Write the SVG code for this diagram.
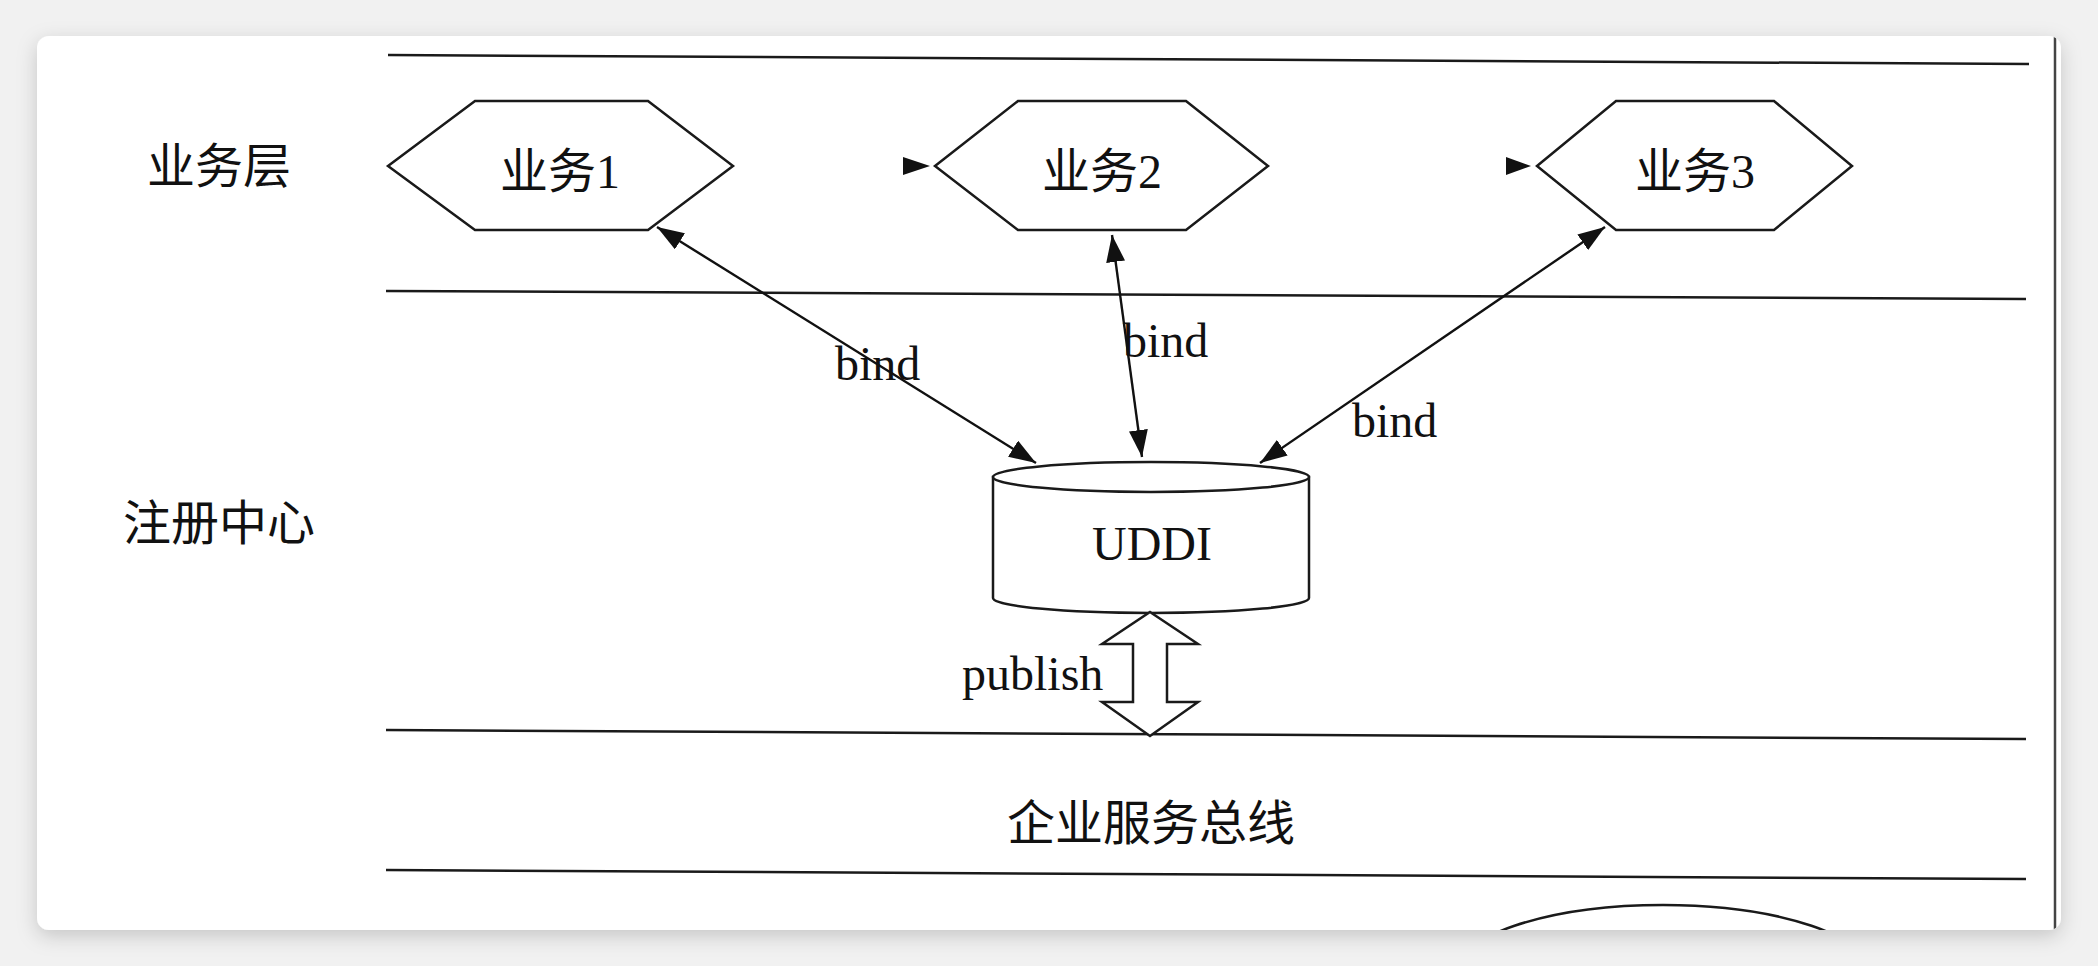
<svg xmlns="http://www.w3.org/2000/svg" width="2098" height="966" viewBox="0 0 2098 966">
  <defs>
    <filter id="shadow" x="-5%" y="-10%" width="110%" height="120%">
      <feDropShadow dx="0" dy="6" stdDeviation="10" flood-color="#000" flood-opacity="0.18"/>
    </filter>
    <clipPath id="cardClip">
      <rect x="37" y="36" width="2024" height="894" rx="12"/>
    </clipPath>
    <marker id="ah" viewBox="0 0 27 19" markerWidth="27" markerHeight="19" refX="27" refY="9.5" orient="auto-start-reverse" markerUnits="userSpaceOnUse">
      <path d="M0,0 L27,9.5 L0,19 Z" fill="#111"/>
    </marker>
    <style>
      .rule { fill: none; stroke: #1a1a1a; stroke-width: 2.5; }
      .shape { fill: #fff; stroke: #1a1a1a; stroke-width: 2.5; }
      .edge { fill: none; stroke: #111; stroke-width: 2.4; }
      .cjk { font-family: "Noto Sans CJK SC", "Liberation Sans", sans-serif; font-size: 48px; fill: #111; }
      .lbl { font-family: "Liberation Serif", "Noto Sans CJK SC", serif; font-size: 48px; fill: #111; }
    </style>
  </defs>

  <rect x="0" y="0" width="2098" height="966" fill="#f1f1f1"/>
  <rect x="37" y="36" width="2024" height="894" rx="12" fill="#fff" filter="url(#shadow)"/>

  <g clip-path="url(#cardClip)">
    <g id="frame">
      <line x1="2055" y1="36" x2="2055" y2="930" stroke="#444" stroke-width="2.5"/>
      <line class="rule" x1="388" y1="55" x2="2029" y2="64"/>
      <line class="rule" x1="386" y1="291" x2="2026" y2="299"/>
      <line class="rule" x1="386" y1="730" x2="2026" y2="739"/>
      <line class="rule" x1="386" y1="870" x2="2026" y2="879"/>
      <ellipse class="shape" cx="1663" cy="976" rx="210" ry="71"/>
    </g>

    <g id="lane-labels">
      <text class="cjk" x="219" y="183" text-anchor="middle">业务层</text>
      <text class="cjk" x="219" y="540" text-anchor="middle">注册中心</text>
      <text class="cjk" x="1151" y="840" text-anchor="middle">企业服务总线</text>
    </g>

    <g id="node-biz1">
      <polygon class="shape" points="388,166 475,101 648,101 733,166 648,230 475,230"/>
      <text class="lbl" x="560" y="188" text-anchor="middle">业务1</text>
    </g>
    <g id="node-biz2">
      <polygon class="shape" points="935,166 1018,101 1186,101 1268,166 1186,230 1018,230"/>
      <text class="lbl" x="1102" y="188" text-anchor="middle">业务2</text>
    </g>
    <g id="node-biz3">
      <polygon class="shape" points="1537,166 1616,101 1774,101 1852,166 1774,230 1616,230"/>
      <text class="lbl" x="1695" y="188" text-anchor="middle">业务3</text>
    </g>

    <g id="node-uddi">
      <path class="shape" d="M993,477 L993,598 A158,15 0 0 0 1309,598 L1309,477 Z"/>
      <ellipse class="shape" cx="1151" cy="477" rx="158" ry="15"/>
      <text class="lbl" x="1152" y="560" text-anchor="middle">UDDI</text>
    </g>

    <g id="connectors">
      <path d="M903,157 L930,166 L903,175 Z" fill="#111"/>
      <path d="M1506,157 L1531,166 L1506,175 Z" fill="#111"/>
      <line class="edge" x1="657" y1="227" x2="1036" y2="463" marker-start="url(#ah)" marker-end="url(#ah)"/>
      <line class="edge" x1="1112" y1="235" x2="1142" y2="457" marker-start="url(#ah)" marker-end="url(#ah)"/>
      <line class="edge" x1="1605" y1="227" x2="1260" y2="463" marker-start="url(#ah)" marker-end="url(#ah)"/>
      <polygon class="shape" points="1150,612 1198,644 1167,644 1167,702 1198,702 1150,736 1102,702 1133,702 1133,644 1102,644"/>
      <text class="lbl" x="835" y="380">bind</text>
      <text class="lbl" x="1123" y="357">bind</text>
      <text class="lbl" x="1352" y="437">bind</text>
      <text class="lbl" x="962" y="690">publish</text>
    </g>
  </g>
</svg>
